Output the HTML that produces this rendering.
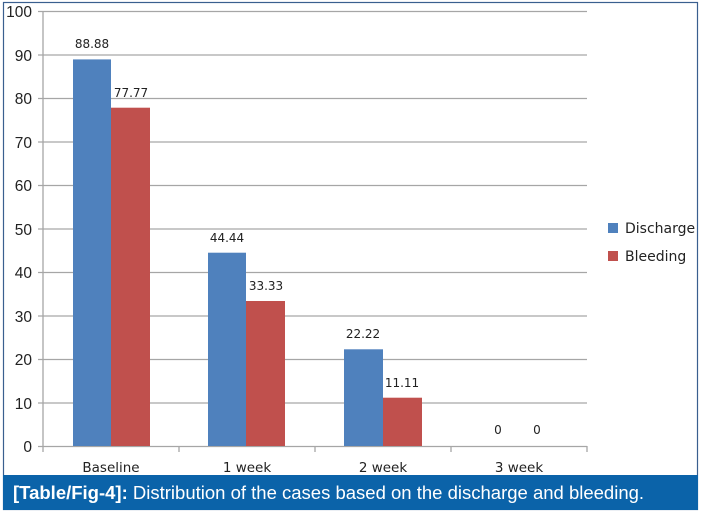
<!DOCTYPE html>
<html><head><style>
body{margin:0;background:#fff;}
svg{display:block;}
</style></head><body>
<svg width="701" height="513" viewBox="0 0 701 513" xmlns="http://www.w3.org/2000/svg" font-family="'DejaVu Sans','Liberation Sans',sans-serif">
<rect x="0" y="0" width="701" height="513" fill="#fff"/>
<rect x="3.5" y="2.5" width="694" height="507" fill="none" stroke="#3a5f8f" stroke-width="1.2"/>
<g stroke="#a6a6a6" stroke-width="1.3">
<line x1="38" y1="11.5" x2="587" y2="11.5"/>
<line x1="38" y1="55" x2="587" y2="55"/>
<line x1="38" y1="98.5" x2="587" y2="98.5"/>
<line x1="38" y1="142" x2="587" y2="142"/>
<line x1="38" y1="185.5" x2="587" y2="185.5"/>
<line x1="38" y1="229" x2="587" y2="229"/>
<line x1="38" y1="272.5" x2="587" y2="272.5"/>
<line x1="38" y1="316" x2="587" y2="316"/>
<line x1="38" y1="359.5" x2="587" y2="359.5"/>
<line x1="38" y1="403" x2="587" y2="403"/>
<line x1="38" y1="446.5" x2="587" y2="446.5"/>
<line x1="43" y1="11" x2="43" y2="446.5"/>
<line x1="43" y1="446" x2="43" y2="452"/>
<line x1="179" y1="446" x2="179" y2="452"/>
<line x1="315" y1="446" x2="315" y2="452"/>
<line x1="451" y1="446" x2="451" y2="452"/>
<line x1="587" y1="446" x2="587" y2="452"/>
</g>
<g font-size="15.5" fill="#222" text-anchor="end" font-family="'Liberation Sans',sans-serif">
<text x="32" y="17">100</text><text x="32" y="61">90</text><text x="32" y="104">80</text>
<text x="32" y="148">70</text><text x="32" y="191">60</text><text x="32" y="235">50</text>
<text x="32" y="278">40</text><text x="32" y="322">30</text><text x="32" y="365">20</text>
<text x="32" y="409">10</text><text x="32" y="452">0</text>
</g>
<g fill="#4f81bd">
<rect x="73" y="59.4" width="38" height="386.6"/>
<rect x="208" y="252.7" width="38" height="193.3"/>
<rect x="344" y="349.3" width="39" height="96.7"/>
</g>
<g fill="#c0504d">
<rect x="111" y="107.7" width="39" height="338.3"/>
<rect x="246" y="301" width="39" height="145"/>
<rect x="383" y="397.7" width="39" height="48.3"/>
</g>
<g font-size="12" fill="#222" text-anchor="middle">
<text x="92" y="48">88.88</text>
<text x="131" y="97">77.77</text>
<text x="227" y="242">44.44</text>
<text x="266" y="290">33.33</text>
<text x="363" y="338">22.22</text>
<text x="402" y="387">11.11</text>
<text x="498" y="434">0</text>
<text x="537" y="434">0</text>
</g>
<g font-size="13.5" fill="#222" text-anchor="middle">
<text x="111" y="472">Baseline</text>
<text x="247" y="472">1 week</text>
<text x="383" y="472">2 week</text>
<text x="519" y="472">3 week</text>
</g>
<rect x="608" y="223" width="10" height="10" fill="#4f81bd"/>
<rect x="608" y="251" width="10" height="10" fill="#c0504d"/>
<g font-size="14" fill="#222">
<text x="625" y="233">Discharge</text>
<text x="625" y="261">Bleeding</text>
</g>
<rect x="3" y="475" width="695" height="35" fill="#0b63a9"/>
<text x="13" y="499" font-family="'Liberation Sans',sans-serif" font-size="18.5" fill="#fff"><tspan font-weight="bold">[Table/Fig-4]:</tspan> Distribution of the cases based on the discharge and bleeding.</text>
</svg>
</body></html>
